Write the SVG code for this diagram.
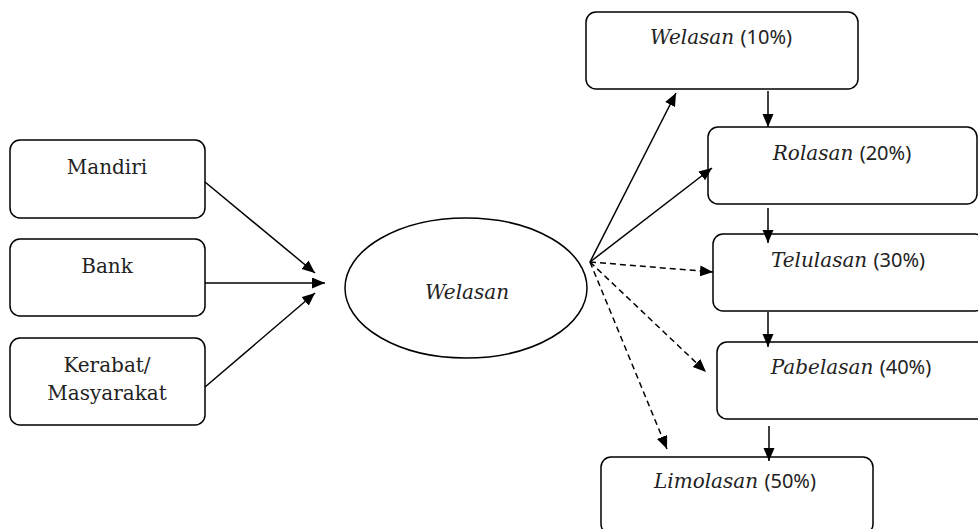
<svg xmlns="http://www.w3.org/2000/svg" width="978" height="529" viewBox="0 0 978 529">
<defs>
<marker id="ah" markerUnits="userSpaceOnUse" markerWidth="14" markerHeight="12" refX="13" refY="5.5" orient="auto">
<path d="M0,0 L13,5.5 L0,11 z" fill="#000"/>
</marker>
<style>
.box{fill:#fff;stroke:#000;stroke-width:1.5}
.t{font-family:"DejaVu Serif","Liberation Serif",serif;font-size:20px;fill:#222;text-anchor:middle}
.i{font-style:italic}
.p{font-family:"Noto Sans","Liberation Sans",sans-serif;font-size:20px;font-style:normal}
.c{fill:none;stroke:#000;stroke-width:1.5;marker-end:url(#ah)}
.d{stroke-dasharray:6,4}
</style>
</defs>
<rect width="978" height="529" fill="#fff"/>
<g id="mandiri"><rect class="box" x="10" y="140" width="195" height="78" rx="10"/><text class="t" x="107" y="174">Mandiri</text></g>
<g id="bank"><rect class="box" x="10" y="239" width="195" height="77" rx="10"/><text class="t" x="107" y="273">Bank</text></g>
<g id="kerabat"><rect class="box" x="10" y="338" width="195" height="87" rx="10"/><text class="t" x="107" y="372">Kerabat/</text><text class="t" x="107" y="400">Masyarakat</text></g>
<g id="welasan-center"><ellipse class="box" cx="466" cy="288" rx="121" ry="70"/><text class="t i" x="467" y="299">Welasan</text></g>
<g id="welasan10"><rect class="box" x="586" y="12" width="272" height="77" rx="10"/><text class="t" x="721" y="44"><tspan class="i">Welasan</tspan> <tspan class="p">(10%)</tspan></text></g>
<g id="rolasan20"><rect class="box" x="708" y="127" width="269" height="77" rx="10"/><text class="t" x="842" y="160"><tspan class="i">Rolasan</tspan> <tspan class="p">(20%)</tspan></text></g>
<g id="telulasan30"><rect class="box" x="713" y="234" width="272" height="77" rx="10"/><text class="t" x="848" y="267"><tspan class="i">Telulasan</tspan> <tspan class="p">(30%)</tspan></text></g>
<g id="pabelasan40"><rect class="box" x="717" y="342" width="272" height="77" rx="10"/><text class="t" x="851" y="374"><tspan class="i">Pabelasan</tspan> <tspan class="p">(40%)</tspan></text></g>
<g id="limolasan50"><rect class="box" x="601" y="457" width="272" height="77" rx="10"/><text class="t" x="735" y="488"><tspan class="i">Limolasan</tspan> <tspan class="p">(50%)</tspan></text></g>
<g id="connectors">
<line class="c" x1="205" y1="182" x2="315" y2="273"/>
<line class="c" x1="205" y1="283" x2="325" y2="283"/>
<line class="c" x1="205" y1="387" x2="315" y2="293"/>
<line class="c" x1="590" y1="262" x2="676" y2="93"/>
<line class="c" x1="590" y1="262" x2="712" y2="168"/>
<line class="c d" x1="590" y1="262" x2="713" y2="272"/>
<line class="c d" x1="590" y1="262" x2="706" y2="372"/>
<line class="c d" x1="590" y1="262" x2="667" y2="449"/>
<line class="c" x1="768" y1="91" x2="768" y2="127"/>
<line class="c" x1="768" y1="208" x2="768" y2="243"/>
<line class="c" x1="768" y1="312" x2="768" y2="347"/>
<line class="c" x1="769" y1="426" x2="769" y2="461"/>
</g>
</svg>
